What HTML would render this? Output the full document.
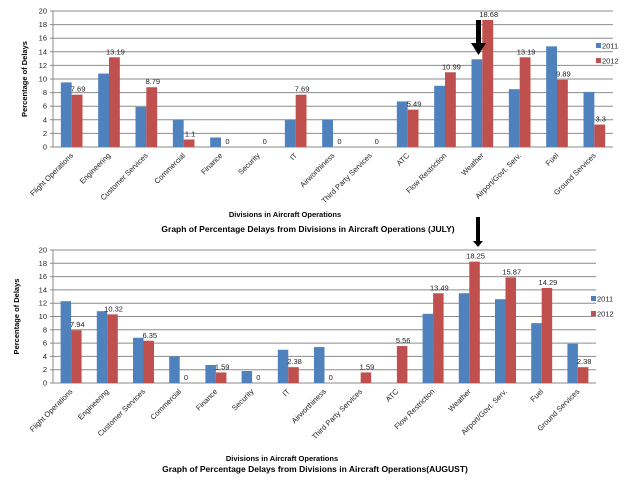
<!DOCTYPE html>
<html><head><meta charset="utf-8"><style>
html,body{margin:0;padding:0;background:#fff;width:638px;height:479px;overflow:hidden}
svg{font-family:"Liberation Sans",sans-serif}
</style></head><body>
<svg id="svg" width="638" height="479" viewBox="0 0 638 479"></svg>
<script>
const categories=["Flight Operations","Engineering","Customer Services","Commercial","Finance","Security","IT","Airworthiness","Third Party Services","ATC","Flow Restriction","Weather","Airport/Govt. Serv.","Fuel","Ground Services"];
const julyValues2011=[9.5,10.8,5.9,4.0,1.4,0,4.0,4.0,0,6.7,9.0,12.9,8.5,14.8,8.1];
const julyValues2012=[7.69,13.19,8.79,1.1,0,0,7.69,0,0,5.49,10.99,18.68,13.19,9.89,3.3];
const julyLabels2012=["7.69","13.19","8.79","1.1","0","0","7.69","0","0","5.49","10.99","18.68","13.19","9.89","3.3"];
const augValues2011=[12.3,10.8,6.8,4.0,2.7,1.8,5.0,5.4,0,0,10.4,13.5,12.6,9.0,5.9];
const augValues2012=[7.94,10.32,6.35,0,1.59,0,2.38,0,1.59,5.56,13.49,18.25,15.87,14.29,2.38];
const augLabels2012=["7.94","10.32","6.35","0","1.59","0","2.38","0","1.59","5.56","13.49","18.25","15.87","14.29","2.38"];
const yTicks=[0,2,4,6,8,10,12,14,16,18,20];
const NS="http://www.w3.org/2000/svg";
const svg=document.getElementById('svg');
function mk(t,a,p,txt){const e=document.createElementNS(NS,t);for(const k in a)e.setAttribute(k,a[k]);if(txt!==undefined)e.textContent=txt;(p||svg).appendChild(e);return e;}
function chart(cfg){
  const g=mk('g',{});
  
  
  const y=v=>cfg.y0-(v/20)*(cfg.y0-cfg.y20);
  const bw=(cfg.x1-cfg.x0)/categories.length;
  const xc=i=>cfg.x0+bw*(i+0.5);
  yTicks.forEach(t=>{
    const l=mk('line',{x1:cfg.x0-3,x2:cfg.x1,y1:y(t),y2:y(t),stroke:t===0?'#888':'#8c8c8c','stroke-width':1},g);
    
    
    const tx=mk('text',{x:cfg.x0-6,y:y(t)+2.5,'font-size':7.5,'text-anchor':'end',fill:'#222'},g,String(t));
    
    
  });
  const ax=mk('line',{x1:cfg.x0,x2:cfg.x0,y1:cfg.y20,y2:cfg.y0,stroke:'#888'},g);
  
  
  const w=bw*0.29;
  categories.forEach((c,i)=>{
    const v1=cfg.v1[i],v2=cfg.v2[i];
    const b1=mk('rect',{x:xc(i)-w,y:y(v1),width:w,height:cfg.y0-y(v1),fill:'#4f81bd'},g);
    
    
    const b2=mk('rect',{x:xc(i),y:y(v2),width:w,height:cfg.y0-y(v2),fill:'#c0504d'},g);
    
    
    const lb=mk('text',{x:xc(i)+w/2+1,y:y(v2)-3,'font-size':7.5,'text-anchor':'middle',fill:'#222'},g,cfg.labels[i]);
    
    
    const cx=xc(i)+2,cy=cfg.y0+9;
    const tl=mk('text',{x:cx,y:cy,'font-size':7.5,'text-anchor':'end',fill:'#222',transform:`rotate(-45 ${cx} ${cy})`},g,c);
    
    
  });
  const yt=mk('text',{x:cfg.ytx,y:(cfg.y0+cfg.y20)/2,'font-size':7.5,'font-weight':'bold','text-anchor':'middle',transform:`rotate(-90 ${cfg.ytx} ${(cfg.y0+cfg.y20)/2})`},g,'Percentage of Delays');
  
  
  const xt=mk('text',{x:cfg.xtx,y:cfg.xty,'font-size':7.5,'font-weight':'bold','text-anchor':'middle'},g,'Divisions in Aircraft Operations');
  
  
  const tt=mk('text',{x:cfg.ttx,y:cfg.tty,'font-size':8.5,'font-weight':'bold','text-anchor':'middle'},g,cfg.title);
  
  
  [['2011','#4f81bd'],['2012','#c0504d']].forEach((L,k)=>{
    const r=mk('rect',{x:cfg.lx,y:cfg.ly+k*15-3,width:5,height:5,fill:L[1]},g);
    
    
    const t=mk('text',{x:cfg.lx+6,y:cfg.ly+k*15+2.5,'font-size':7.5,fill:'#222'},g,L[0]);
    
    
  });
}
chart({name:'july-chart',x0:53,x1:613,y0:147,y20:11,v1:julyValues2011,v2:julyValues2012,labels:julyLabels2012,ytx:27,xtx:285,xty:217,ttx:308,tty:232,title:'Graph of Percentage Delays from Divisions in Aircraft Operations (JULY)',lx:596,ly:46});
chart({name:'august-chart',x0:53,x1:596,y0:383,y20:250,v1:augValues2011,v2:augValues2012,labels:augLabels2012,ytx:19,xtx:282,xty:461,ttx:315,tty:472,title:'Graph of Percentage Delays from Divisions in Aircraft Operations(AUGUST)',lx:591,ly:299});
const a1=mk('g',{});


mk('rect',{x:476,y:20,width:5,height:24,fill:'#000'},a1);
mk('polygon',{points:'471,43 486,43 478.5,55',fill:'#000'},a1);
const a2=mk('g',{});


mk('rect',{x:476,y:217,width:4,height:25,fill:'#000'},a2);
mk('polygon',{points:'473,241 483,241 478,247',fill:'#000'},a2);
</script>
</body></html>
